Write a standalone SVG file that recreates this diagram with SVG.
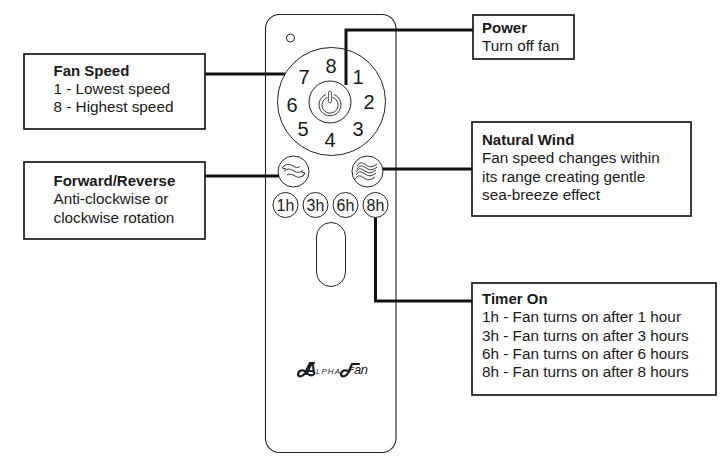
<svg xmlns="http://www.w3.org/2000/svg" width="728" height="468" viewBox="0 0 728 468">
<style>
text{font-family:"Liberation Sans",Arial,sans-serif;fill:#1a1a1a}
.t{font-size:15.3px}
.b{font-weight:bold;font-size:15px}
.box{fill:#fff;stroke:#1a1a1a;stroke-width:1.7}
.ln{fill:none;stroke:#111;stroke-width:3}
.o{fill:#fff;stroke:#222;stroke-width:1}
.n{font-size:20px;text-anchor:middle}
.h{font-size:16px;text-anchor:middle}
.g{fill:none;stroke:#333;stroke-width:1}
.sw{fill:none;stroke:#1a1a1a;stroke-width:2.200;stroke-linecap:round}
</style>
<rect width="728" height="468" fill="#fff"/>
<g id="remote">
<rect x="265.500" y="14.500" width="130.500" height="438" rx="14" fill="#fff" stroke="#222" stroke-width="1.100"/>
<circle class="o" cx="290.500" cy="38" r="4"/>
<circle class="o" cx="331.500" cy="101.500" r="54"/>
<circle class="o" cx="330" cy="102" r="21"/>
<path class="g" d="M326 94.500a11 11 0 1 0 8 0M327.500 97.500a8 8 0 1 0 5 0"/>
<rect x="328.500" y="91" width="3" height="12" rx="1.500" fill="#fff" stroke="#333" stroke-width=".8"/>
<text class="n" x="331" y="73">8</text>
<text class="n" x="358" y="84">1</text>
<text class="n" x="369" y="108.500">2</text>
<text class="n" x="358" y="136">3</text>
<text class="n" x="330" y="147">4</text>
<text class="n" x="303" y="136">5</text>
<text class="n" x="292" y="112">6</text>
<text class="n" x="304" y="84">7</text>
<g id="btn-forward">
<circle class="o" cx="293.500" cy="171.500" r="15.500"/>
<path class="g" stroke-width="1.400" d="M282 168c4-5 8-4 11-2s6 2 7 0M285 165l-3 3 4 1M284 171c4-3 7-2 10 0s6 2 9-1M305 173c-3 5-7 5-10 3s-6-2-8-1M302 177l3-4-4-1"/>
</g>
<g id="btn-wind">
<circle class="o" cx="367.500" cy="171.500" r="15.500"/>
<path class="g" stroke="#222" stroke-width="1.300" d="M357 166c3-5 6-3 9-1s6 3 11-1M357 169c3-5 6-3 9-1s6 3 11-1M356 172c3-5 6-3 9-1s6 3 11-1M356 175c3-5 6-3 9-1s6 3 11-1M355 179c3-5 6-3 9-1s6 3 11-1"/>
</g>
<circle class="o" cx="285.500" cy="205" r="12.500"/><text class="h" x="285.500" y="210.500">1h</text>
<circle class="o" cx="315.500" cy="205" r="12.500"/><text class="h" x="315.500" y="210.500">3h</text>
<circle class="o" cx="345.500" cy="205" r="12.500"/><text class="h" x="345.500" y="210.500">6h</text>
<circle class="o" cx="375.500" cy="205" r="12.500"/><text class="h" x="375.500" y="210.500">8h</text>
<rect class="o" x="316.500" y="222.500" width="29" height="64" rx="14.500"/>
<g id="logo">
<path class="sw" d="M298 375c0-5 5-6 8-3 2 3 4 4 7 3M298 375c1 2 5 2 7-2l5-10h4M341 375c0-5 5-6 8-3M341 375c1 2 5 2 7-2l4-9h7"/>
<text x="305" y="375" font-size="16" font-style="italic" font-weight="bold">A</text>
<text x="316" y="373.500" font-size="8" font-style="italic" textLength="24">LPHA</text>
<text x="349" y="372" font-size="8" font-style="italic" font-weight="bold">F</text>
<text x="354" y="374" font-size="13" font-style="italic" textLength="14">an</text>
</g>
</g>
<g id="connectors">
<path class="ln" d="M205 74H285"/>
<path class="ln" d="M205 176H279"/>
<path class="ln" d="M473 30H346V85"/>
<path class="ln" d="M472 169H383"/>
<path class="ln" d="M375.500 217.500V301H472"/>
</g>
<g id="fan-speed">
<rect class="box" x="24" y="54" width="181" height="75"/>
<text class="b" x="53.500" y="76">Fan Speed</text>
<text class="t" x="53.500" y="94">1 - Lowest speed</text>
<text class="t" x="53.500" y="112">8 - Highest speed</text>
</g>
<g id="forward-reverse">
<rect class="box" x="24" y="162" width="181" height="77"/>
<text class="b" x="53.500" y="186">Forward/Reverse</text>
<text class="t" x="53.500" y="204">Anti-clockwise or</text>
<text class="t" x="53.500" y="223">clockwise rotation</text>
</g>
<g id="power">
<rect class="box" x="473" y="15" width="101" height="44"/>
<text class="b" x="482" y="33">Power</text>
<text class="t" x="482" y="51">Turn off fan</text>
</g>
<g id="natural-wind">
<rect class="box" x="472" y="122" width="219" height="94"/>
<text class="b" x="482" y="145">Natural Wind</text>
<text class="t" x="482" y="163">Fan speed changes within</text>
<text class="t" x="482" y="182">its range creating gentle</text>
<text class="t" x="482" y="200">sea-breeze effect</text>
</g>
<g id="timer-on">
<rect class="box" x="472" y="283" width="244" height="112"/>
<text class="b" x="482" y="304">Timer On</text>
<text class="t" x="482" y="322">1h - Fan turns on after 1 hour</text>
<text class="t" x="482" y="341">3h - Fan turns on after 3 hours</text>
<text class="t" x="482" y="359">6h - Fan turns on after 6 hours</text>
<text class="t" x="482" y="377">8h - Fan turns on after 8 hours</text>
</g>
</svg>
